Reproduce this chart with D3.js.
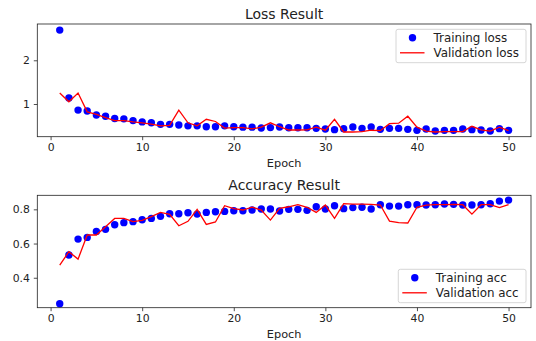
<!DOCTYPE html>
<html><head><meta charset="utf-8">
<script src="https://cdn.jsdelivr.net/npm/d3@7"></script>
<style>body{margin:0;background:#fff;}svg{display:block;font-family:"DejaVu Sans",sans-serif;}</style>
</head><body>
<svg id="c" width="536" height="341"></svg>
<script>
const epochs = d3.range(1, 51);
const trainLoss = [2.69,1.14,0.86,0.84,0.75,0.72,0.67,0.66,0.62,0.59,0.57,0.535,0.535,0.52,0.50,0.50,0.48,0.48,0.50,0.48,0.47,0.47,0.45,0.46,0.474,0.458,0.458,0.458,0.443,0.428,0.413,0.436,0.474,0.443,0.474,0.42,0.443,0.443,0.42,0.397,0.428,0.382,0.397,0.397,0.428,0.413,0.405,0.382,0.436,0.397];
const valLoss = [1.25,1.05,1.25,0.82,0.76,0.69,0.62,0.62,0.59,0.57,0.54,0.50,0.51,0.86,0.57,0.50,0.65,0.60,0.45,0.46,0.46,0.43,0.47,0.57,0.48,0.405,0.405,0.41,0.47,0.40,0.65,0.36,0.36,0.37,0.40,0.39,0.55,0.56,0.72,0.47,0.38,0.36,0.37,0.37,0.37,0.49,0.41,0.38,0.47,0.39];
const trainAcc = [0.248,0.533,0.626,0.636,0.671,0.683,0.71,0.722,0.728,0.739,0.747,0.759,0.774,0.774,0.78,0.772,0.782,0.786,0.788,0.792,0.792,0.796,0.802,0.802,0.79,0.8,0.8,0.794,0.815,0.802,0.821,0.804,0.81,0.812,0.802,0.827,0.819,0.819,0.827,0.827,0.825,0.827,0.831,0.829,0.825,0.825,0.827,0.833,0.848,0.854];
const valAcc = [0.474,0.552,0.509,0.65,0.65,0.698,0.747,0.747,0.728,0.736,0.757,0.782,0.771,0.704,0.73,0.8,0.712,0.726,0.821,0.804,0.796,0.813,0.796,0.737,0.806,0.815,0.827,0.812,0.782,0.825,0.747,0.833,0.831,0.831,0.829,0.825,0.731,0.722,0.72,0.812,0.825,0.827,0.827,0.829,0.827,0.772,0.827,0.827,0.81,0.827];
const xTicks = [0,10,20,30,40,50];
const lossTicks = [1,2];
const accTicks = [0.4,0.6,0.8];

const svg = d3.select("#c");
const x = d3.scaleLinear().domain([-1.45, 52.45]).range([37.3, 531]);

function panel(opt){
  const y = d3.scaleLinear().domain(opt.ydom).range([opt.bottom, opt.top]);
  const g = svg.append("g");
  g.append("text").attr("x", (37.3+531)/2).attr("y", opt.top-5.5).attr("text-anchor","middle")
    .attr("font-size", 14).attr("fill","#222").text(opt.title);
  const xa = g.append("g").attr("transform", `translate(0,${opt.bottom})`)
    .call(d3.axisBottom(x).tickValues(xTicks).tickSize(3.5).tickPadding(3.5).tickFormat(d3.format("d")));
  const ya = g.append("g").attr("transform", `translate(37.3,0)`)
    .call(d3.axisLeft(y).tickValues(opt.yticks).tickSize(3.5).tickPadding(4).tickFormat(opt.fmt));
  [xa, ya].forEach(a => {
    a.select(".domain").remove();
    a.selectAll("text").attr("font-size", 10.8).attr("fill","#222").attr("font-family","DejaVu Sans");
    a.selectAll("line").attr("stroke","#222").attr("stroke-width",0.8);
  });
  g.append("text").attr("x", (37.3+531)/2).attr("y", opt.bottom+30).attr("text-anchor","middle")
    .attr("font-size", 11.3).attr("fill","#222").text("Epoch");
  g.selectAll("circle.p").data(opt.pts).enter().append("circle")
    .attr("cx", (d,i)=>x(epochs[i])).attr("cy", d=>y(d)).attr("r", 3.7).attr("fill","#0000ff");
  g.append("path").datum(opt.line).attr("fill","none").attr("stroke","#ff0000").attr("stroke-width",1.3)
    .attr("d", d3.line().x((d,i)=>x(epochs[i])).y(d=>y(d)));
  g.append("rect").attr("x",37.3).attr("y",opt.top).attr("width",531-37.3).attr("height",opt.bottom-opt.top)
    .attr("fill","none").attr("stroke","#222").attr("stroke-width",0.8);
  const L = opt.leg;
  g.append("rect").attr("x",L.x).attr("y",L.y).attr("width",L.w).attr("height",L.h).attr("rx",2)
    .attr("fill","#fff").attr("fill-opacity",0.8).attr("stroke","#ccc").attr("stroke-width",0.8);
  g.append("circle").attr("cx",L.x+16.5).attr("cy",L.y+8.5).attr("r",3.7).attr("fill","#0000ff");
  g.append("line").attr("x1",L.x+4).attr("x2",L.x+28.5).attr("y1",L.y+23.5).attr("y2",L.y+23.5)
    .attr("stroke","#ff0000").attr("stroke-width",1.3);
  g.append("text").attr("x",L.x+37.5).attr("y",L.y+8.5).attr("dy","0.35em").attr("font-size",11.9).attr("fill","#222").text(opt.names[0]);
  g.append("text").attr("x",L.x+37.5).attr("y",L.y+23.5).attr("dy","0.35em").attr("font-size",11.9).attr("fill","#222").text(opt.names[1]);
}

panel({title:"Loss Result", top:24, bottom:136.7, ydom:[0.252,2.83], yticks:lossTicks, fmt:d3.format("d"),
  pts:trainLoss, line:valLoss, names:["Training loss","Validation loss"], leg:{x:396,y:29.3,w:130,h:33.4}});
panel({title:"Accuracy Result", top:195.3, bottom:307.7, ydom:[0.225,0.882], yticks:accTicks, fmt:d3.format(".1f"),
  pts:trainAcc, line:valAcc, names:["Training acc","Validation acc"], leg:{x:398.3,y:269.3,w:127.7,h:33.4}});
</script>
</body></html>
